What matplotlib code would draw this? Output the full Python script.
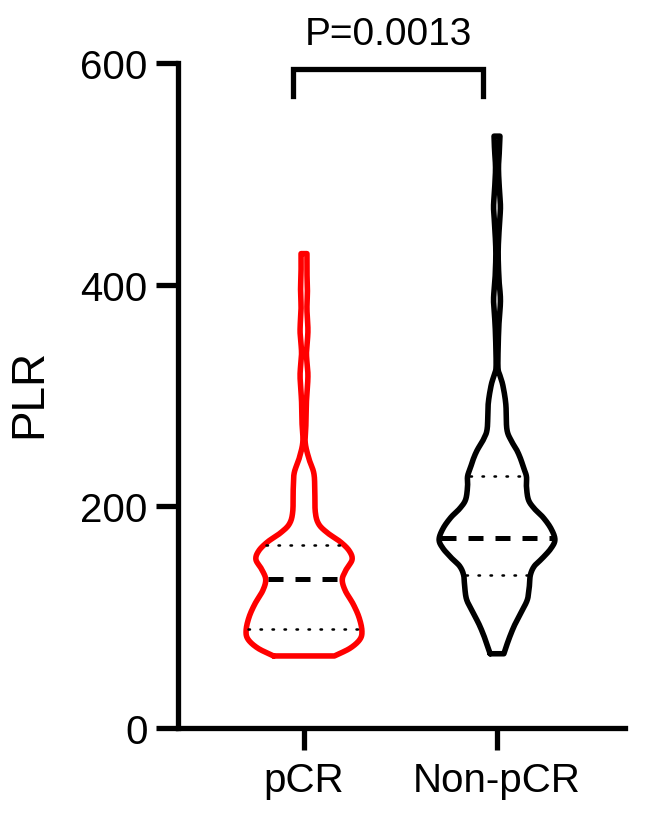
import numpy as np
import matplotlib
matplotlib.use("Agg")
import matplotlib.pyplot as plt

plt.rcParams['font.family'] = ['Liberation Sans', 'DejaVu Sans']

# ---------------- data ----------------
groups = ["pCR", "Non-pCR"]
colors = ["#ff0000", "#000000"]

# violin outline: PLR level -> relative density (half-width)
pcr_levels = [65, 72, 80, 88, 100, 112, 124, 134, 143, 152, 160, 168, 176, 184, 195, 215,
              230, 243, 258, 275, 295, 318, 338, 358, 378, 395, 412, 428]
pcr_density = [31, 47, 57, 59, 56, 50, 42, 39, 43, 49, 46, 37, 24, 15, 11.5, 11,
               10, 5, 1.2, 2, 2.5, 4, 2.5, 4, 3, 3.5, 3, 3]

non_levels = [67, 80, 93, 105, 116, 128, 138, 146, 153, 162, 170, 180, 190, 198, 206, 218,
              227, 235, 243, 251, 260, 270, 292, 309, 318, 325, 345, 365, 386, 405, 430,
              455, 470, 485, 505, 522, 534]
non_density = [7, 12, 18, 25, 31, 33, 34, 38, 46, 55, 59, 55, 47, 38, 32, 30,
               30, 27, 24, 20, 14, 10, 9, 6, 3, 1, 1.2, 2, 3.5, 2, 1.2,
               2.5, 3.5, 2.5, 1.5, 2.5, 3]

medians = [134, 171]
q1 = [89, 138]
q3 = [165, 227]

p_text = "P=0.0013"
yticks = [0, 200, 400, 600]

# ---------------- helpers ----------------
def catmull(xs, ys, n=24):
    xs = np.asarray(xs, float); ys = np.asarray(ys, float)
    px = np.concatenate([[2 * xs[0] - xs[1]], xs, [2 * xs[-1] - xs[-2]]])
    py = np.concatenate([[2 * ys[0] - ys[1]], ys, [2 * ys[-1] - ys[-2]]])
    ox, oy = [], []
    for i in range(1, len(px) - 2):
        t = np.linspace(0, 1, n, endpoint=False)
        for arr, out in ((px, ox), (py, oy)):
            p0, p1, p2, p3 = arr[i - 1], arr[i], arr[i + 1], arr[i + 2]
            out.append(0.5 * ((2 * p1) + (-p0 + p2) * t +
                              (2 * p0 - 5 * p1 + 4 * p2 - p3) * t ** 2 +
                              (-p0 + 3 * p1 - 3 * p2 + p3) * t ** 3))
    ox.append([xs[-1]]); oy.append([ys[-1]])
    return np.concatenate(ox), np.concatenate(oy)

# ---------------- figure ----------------
fig = plt.figure(figsize=(6.5, 8.2), dpi=100)
ax = fig.add_axes([178 / 650, 1 - 729 / 820, (625 - 178) / 650, (729 - 64) / 820])

maxd = max(max(pcr_density), max(non_density))
half_max = 0.300
lw = 4.0

profiles = [(pcr_levels, pcr_density), (non_levels, non_density)]
for i, (lv, dn) in enumerate(profiles):
    pos = i + 1
    yy, ww = catmull(lv, dn)
    ww = np.clip(ww, 0.6, None) / maxd * half_max
    xs = np.concatenate([pos - ww, (pos + ww)[::-1], [pos - ww[0]]])
    ys = np.concatenate([yy, yy[::-1], [yy[0]]])
    ax.plot(xs, ys, color=colors[i], lw=lw, solid_joinstyle='round',
            solid_capstyle='round', clip_on=False, zorder=3)
    inner = 0.012
    for val, style, lwd in ((medians[i], (0, (3.0, 2.4)), 3.6),
                            (q1[i], (0, (0.6, 4.2)), 1.8),
                            (q3[i], (0, (0.6, 4.2)), 1.8)):
        hw = np.interp(val, yy, ww) - inner
        ax.plot([pos - hw, pos + hw], [val, val], color='black', lw=lwd,
                linestyle=style, dash_capstyle='round' if lwd < 2 else 'butt',
                zorder=4)

ax.set_xlim(1 - 126 / 193, 2 + 128 / 193)
ax.set_ylim(0, 600)
ax.set_xticks([1, 2])
ax.set_xticklabels(groups)
ax.set_yticks(yticks)
ax.set_yticklabels([str(v) for v in yticks])

for s in ['top', 'right']:
    ax.spines[s].set_visible(False)
for s in ['left', 'bottom']:
    ax.spines[s].set_linewidth(3.8)
    ax.spines[s].set_capstyle('projecting')
ax.tick_params(axis='both', width=3.8, length=16, labelsize=29, direction='out')
ax.tick_params(axis='y', pad=6)
ax.tick_params(axis='x', pad=8)

fig.text(29 / 650, 1 - 393 / 820, "PLR", rotation=90, ha='center', va='center', fontsize=33)

# significance bracket
bx0, bx1 = 1 - 11 / 193, 2 - 14 / 193
by, bl = 595, 570
ax.plot([bx0, bx0, bx1, bx1], [bl, by, by, bl], color='black', lw=3.8, clip_on=False,
        solid_joinstyle='miter', zorder=5)
ax.text((bx0 + bx1) / 2, 617, p_text, ha='center', va='baseline', fontsize=28, clip_on=False)

fig.savefig("out.png", dpi=100)
